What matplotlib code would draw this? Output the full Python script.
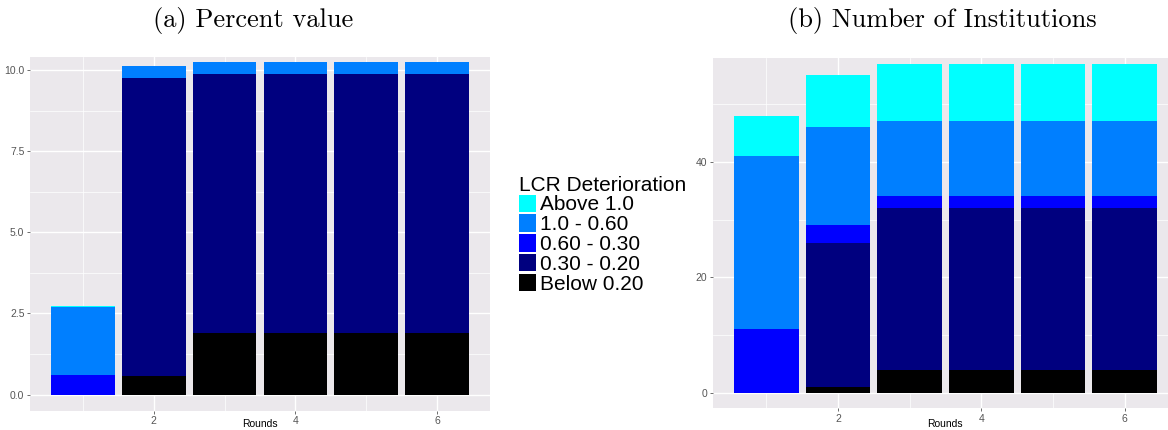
import matplotlib.pyplot as plt
from matplotlib.patches import Patch
from matplotlib.ticker import MultipleLocator

rounds = [1, 2, 3, 4, 5, 6]
categories = ["Above 1.0", "1.0 - 0.60", "0.60 - 0.30", "0.30 - 0.20", "Below 0.20"]
colors = ["#00FFFF", "#007FFF", "#0000FF", "#00007F", "#000000"]

# (a) percent value, stacked bottom -> top
pct_below_020 = [0.0, 0.57, 1.90, 1.90, 1.90, 1.90]
pct_030_020 = [0.0, 9.19, 7.98, 7.98, 7.98, 7.98]
pct_060_030 = [0.61, 0.0, 0.0, 0.0, 0.0, 0.0]
pct_1_060 = [2.08, 0.37, 0.36, 0.36, 0.36, 0.36]
pct_above_1 = [0.04, 0.0, 0.0, 0.0, 0.0, 0.0]

# (b) number of institutions
num_below_020 = [0, 1, 4, 4, 4, 4]
num_030_020 = [0, 25, 28, 28, 28, 28]
num_060_030 = [11, 3, 2, 2, 2, 2]
num_1_060 = [30, 17, 13, 13, 13, 13]
num_above_1 = [7, 9, 10, 10, 10, 10]

plt.rcParams['font.family'] = ['Liberation Sans', 'DejaVu Sans']

fig = plt.figure(figsize=(11.68, 4.3), dpi=100)
ax1 = fig.add_axes([30/1168, 1-410.5/430, 460/1168, (410.5-56.7)/430])
ax2 = fig.add_axes([713/1168, 1-408/430, 465/1168, (408-58)/430])


def stack(ax, layers):
    bottom = [0] * len(rounds)
    # layers given bottom -> top, colors are top -> bottom
    for vals, c in zip(layers, colors[::-1]):
        ax.bar(rounds, vals, width=0.9, bottom=bottom, color=c,
               linewidth=0, zorder=3)
        bottom = [b + v for b, v in zip(bottom, vals)]


def style(ax):
    ax.set_facecolor('#EBE8EC')
    for s in ax.spines.values():
        s.set_visible(False)
    ax.xaxis.set_major_locator(MultipleLocator(2))
    ax.xaxis.set_minor_locator(MultipleLocator(1))
    ax.grid(which='major', color='white', linewidth=1.0, zorder=0)
    ax.grid(which='minor', color='white', linewidth=0.5, zorder=0)
    ax.tick_params(which='major', length=2.5, width=0.6, color='#555555',
                   labelsize=7.5, labelcolor='#555555', pad=1.5)
    ax.tick_params(which='minor', length=0)


stack(ax1, [pct_below_020, pct_030_020, pct_060_030, pct_1_060, pct_above_1])
style(ax1)
ax1.yaxis.set_major_locator(MultipleLocator(2.5))
ax1.yaxis.set_minor_locator(MultipleLocator(1.25))
ax1.yaxis.set_major_formatter(plt.FormatStrFormatter('%.1f'))
ax1.set_xlim(0.255, 6.745)
ax1.set_ylim(-0.49, 10.41)

stack(ax2, [num_below_020, num_030_020, num_060_030, num_1_060, num_above_1])
style(ax2)
ax2.yaxis.set_major_locator(MultipleLocator(20))
ax2.yaxis.set_minor_locator(MultipleLocator(10))
ax2.set_xlim(0.255, 6.745)
ax2.set_ylim(-2.65, 58)

# axis titles sit right at the bottom edge
fig.text(260/1168, 1/430, 'Rounds', fontsize=7.5, ha='center', va='bottom')
fig.text(945/1168, 1/430, 'Rounds', fontsize=7.5, ha='center', va='bottom')

fig.text(253/1168, 1-20/430, '(a) Percent value', family='cmr10', fontsize=19,
         ha='center', va='center')
fig.text(942/1168, 1-20/430, '(b) Number of Institutions', family='cmr10', fontsize=19,
         ha='center', va='center')

handles = [Patch(facecolor=c, edgecolor='none') for c in colors]
leg = fig.legend(handles, categories, title='LCR Deterioration',
                 loc='upper left', bbox_to_anchor=(504/1168, 1-161/430),
                 frameon=False, fontsize=15, title_fontsize=15,
                 handlelength=0.85, handleheight=0.9, handletextpad=0.2,
                 labelspacing=0.0, borderpad=0.2)
leg._legend_box.align = 'left'

fig.savefig('out.png', dpi=100)
